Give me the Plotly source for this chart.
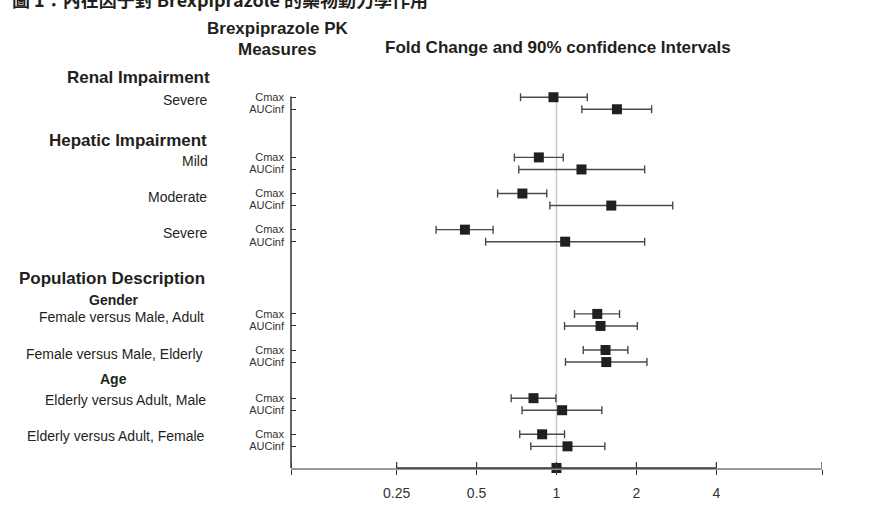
import plotly.graph_objects as go

# ---------------- data ----------------
title_text = "圖 1：內在因子對 Brexpiprazole 的藥物動力學作用"
section_labels = ["Renal Impairment", "Hepatic Impairment", "Population Description"]
sub_headers = ["Gender", "Age"]
subgroup_labels = ["Severe", "Mild", "Moderate", "Severe",
                   "Female versus Male, Adult", "Female versus Male, Elderly",
                   "Elderly versus Adult, Male", "Elderly versus Adult, Female"]
measures = ["Cmax", "AUCinf"]

cmax_point = [0.974, 0.858, 0.744, 0.452, 1.424, 1.530, 0.819, 0.883]
cmax_lo    = [0.732, 0.694, 0.600, 0.352, 1.169, 1.261, 0.675, 0.727]
cmax_hi    = [1.306, 1.060, 0.919, 0.577, 1.728, 1.857, 0.994, 1.072]

auc_point  = [1.689, 1.242, 1.608, 1.078, 1.465, 1.540, 1.050, 1.100]
auc_lo     = [1.246, 0.721, 0.944, 0.541, 1.072, 1.081, 0.742, 0.800]
auc_hi     = [2.282, 2.148, 2.740, 2.148, 2.016, 2.191, 1.482, 1.521]

ref_value = 1
x_tickvals = [0.1, 0.25, 0.5, 1, 2, 4, 10]
x_ticktext = ["", "0.25", "0.5", "1", "2", "4", ""]

# ---------------- layout helpers ----------------
W, H = 886, 513
L, R, T, B = 291, 64, 90, 45
row_slots = [0, 5, 8, 11, 18, 21, 25, 28]   # vertical slot of each Cmax row
Y_BOTTOM, Y_TOP = 30.8, -0.6

cmax_y = [s for s in row_slots]
auc_y = [s + 1 for s in row_slots]

def pxx(p):
    return (p - L) / (W - L - R)

def pxy(p):
    return (H - B - p) / (H - T - B)

FONT = "Liberation Sans, Arial, Helvetica, sans-serif"
TXT = "#231f20"
MK = "#231f20"
EB = "#4a4a4a"

fig = go.Figure()

for pts, lo, hi, ys, name in [(cmax_point, cmax_lo, cmax_hi, cmax_y, measures[0]),
                              (auc_point, auc_lo, auc_hi, auc_y, measures[1])]:
    fig.add_trace(go.Scatter(
        x=pts, y=ys, mode="markers", name=name, cliponaxis=False,
        marker=dict(symbol="square", size=10, color=MK),
        error_x=dict(type="data", symmetric=False,
                     array=[h - p for h, p in zip(hi, pts)],
                     arrayminus=[p - l for p, l in zip(pts, lo)],
                     color=EB, thickness=1.4, width=4),
        showlegend=False))

# reference marker on the axis
fig.add_trace(go.Scatter(x=[ref_value], y=[Y_BOTTOM], mode="markers", cliponaxis=False,
                         marker=dict(symbol="square", size=10, color=MK), showlegend=False))

tickvals_y = []
ticktext_y = []
for c, a in zip(cmax_y, auc_y):
    tickvals_y += [c, a]
    ticktext_y += measures

shapes = [
    dict(type="line", xref="x", yref="y", x0=ref_value, x1=ref_value, y0=0, y1=Y_BOTTOM,
         line=dict(color="#c8c8c8", width=1.5), layer="below"),
    dict(type="line", xref="paper", yref="y", x0=0, x1=0, y0=-0.05, y1=Y_BOTTOM + 0.25,
         line=dict(color="#333333", width=1.5)),
    dict(type="line", xref="x", yref="paper", x0=0.25, x1=4, y0=0, y1=0,
         line=dict(color="#333333", width=1.6)),
]
for tv in x_tickvals:
    shapes.append(dict(type="line", xref="x", yref="paper", x0=tv, x1=tv,
                       y0=0, y1=6 / (H - T - B), line=dict(color="#333333", width=1.2)))

ann = []
def add_text(text, xr, yc, size, bold=False, anchor="right", family=FONT):
    ann.append(dict(text=("<b>%s</b>" % text) if bold else text, xref="paper", yref="paper",
                    x=pxx(xr), y=pxy(yc), xanchor=anchor, yanchor="middle", showarrow=False,
                    font=dict(family=family, size=size, color=TXT)))

add_text(title_text, 10, -1, 18, bold=True, anchor="left",
         family="Noto Sans CJK TC, Noto Sans CJK SC, sans-serif")
add_text("Brexpiprazole PK", 277, 29, 17, bold=True, anchor="center")
add_text("Measures", 277, 49, 17, bold=True, anchor="center")
add_text("Fold Change and 90% confidence Intervals", 558, 48, 17, bold=True, anchor="center")

add_text(section_labels[0], 212, 78, 17, bold=True)
add_text(section_labels[1], 209, 140, 17, bold=True)
add_text(section_labels[2], 207, 278, 17, bold=True)
add_text(sub_headers[0], 114, 300, 14, bold=True, anchor="center")
add_text(sub_headers[1], 113, 379, 14, bold=True, anchor="center")

sub_pos = [(210, 100), (210, 161), (209, 197), (210, 233),
           (206, 317), (205, 354), (208, 400), (207, 436)]
for lab, (xr, yc) in zip(subgroup_labels, sub_pos):
    add_text(lab, xr, yc, 14)

fig.update_layout(
    width=W, height=H, margin=dict(l=L, r=R, t=T, b=B),
    paper_bgcolor="white", plot_bgcolor="white",
    shapes=shapes, annotations=ann,
    xaxis=dict(type="log", range=[-1, 1], tickvals=x_tickvals, ticktext=x_ticktext,
               showgrid=False, zeroline=False, showline=True, linecolor="#9a9a9a", linewidth=2,
               ticks="outside", ticklen=5, tickwidth=1.2, tickcolor="#333333",
               ticklabelstandoff=6,
               tickfont=dict(family=FONT, size=14, color="#333333")),
    yaxis=dict(range=[Y_BOTTOM, Y_TOP], tickvals=tickvals_y, ticktext=ticktext_y,
               showgrid=False, zeroline=False, showline=False,
               ticks="inside", ticklen=5, tickwidth=1.2, tickcolor="#333333",
               ticklabelstandoff=6,
               tickfont=dict(family=FONT, size=11, color="#333333")),
)

fig.write_html("out.html", config={"displayModeBar": False},
               post_script="document.body.style.margin='0px';document.body.style.overflow='hidden';")
